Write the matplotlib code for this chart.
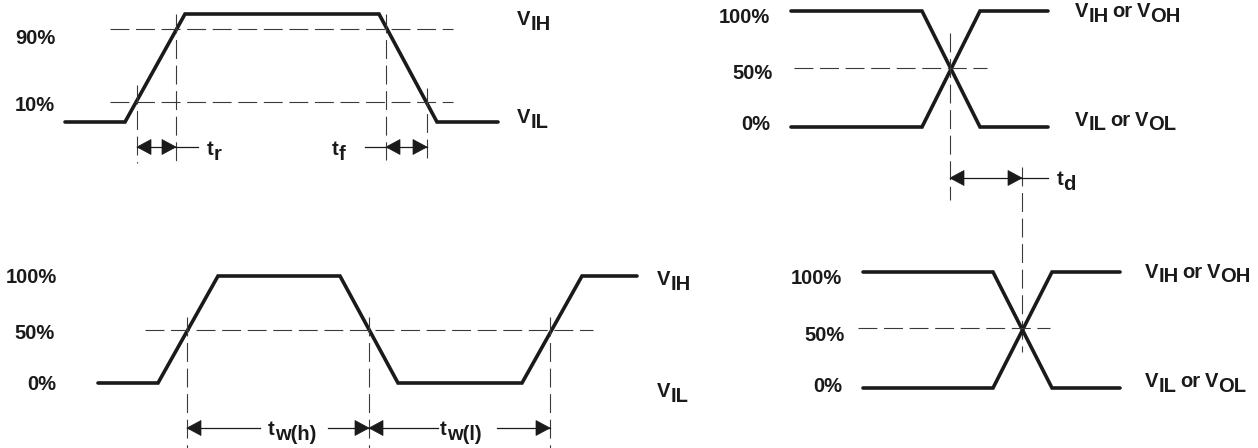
import matplotlib
matplotlib.use('Agg')
import matplotlib.pyplot as plt
from matplotlib.patches import Polygon

# Sheet is laid out in pixel units: x to the right, y downward.
W, H = 1258, 448

# ---- top left: rise / fall time ----
tl_wave_x = [65, 125, 185, 379, 437, 498]
tl_wave_y = [122, 122, 14, 14, 122, 122]
tl_ref_y = [29, 102]            # 90 %, 10 % reference lines
tl_ref_span = [110, 453]
tl_pct_labels = ['90%', '10%']
tl_pct_base = [44, 111]
tl_edges = [137, 176, 386, 427]  # crossing points of the reference lines
tl_edge_top = [85, 14, 14, 88]
tl_edge_bot = [163, 167, 160, 160]

# ---- top right: propagation delay, input ----
tr_x = [791, 922, 980, 1048]
tr_hi = [11, 11, 127, 127]
tr_lo = [127, 127, 11, 11]
tr_mid_y = 68
tr_mid_span = [794, 987]
tr_pct_labels = ['100%', '50%', '0%']
tr_pct_base = [23, 79, 130]
tr_pct_right = [770, 773, 770]

# ---- bottom left: pulse width ----
bl_wave_x = [98, 158, 218, 340, 398, 522, 582, 637]
bl_wave_y = [383, 383, 276, 276, 383, 383, 276, 276]
bl_mid_y = 330
bl_mid_span = [145, 593]
bl_pct_labels = ['100%', '50%', '0%']
bl_pct_base = [283, 339, 390]
bl_pct_right = [57, 55, 56]
bl_edges = [187, 369, 550]

# ---- bottom right: propagation delay, output ----
br_x = [863, 993, 1052, 1120]
br_hi = [272, 272, 388, 388]
br_lo = [388, 388, 272, 272]
br_mid_y = 328
br_mid_span = [858, 1050]
br_pct_labels = ['100%', '50%', '0%']
br_pct_base = [284, 341, 392]
br_pct_right = [842, 845, 842]

td_edges = [950, 1022]

INK = '#1a1a1a'
DASH = '#3a3a3a'
FS = 14.5
FONT = 'Liberation Sans'

fig = plt.figure(figsize=(W / 100, H / 100), dpi=100)
ax = fig.add_axes([0, 0, 1, 1])
ax.set_xlim(0, W)
ax.set_ylim(H, 0)
ax.axis('off')
renderer = fig.canvas.get_renderer()


def wave(x, y):
    ax.plot(x, y, color=INK, lw=2.6, solid_joinstyle='miter', solid_capstyle='round')


def dashed_h(y, x0, x1):
    ax.plot([x0, x1], [y, y], color=DASH, lw=0.8, ls=(0, (17, 6)))


def dashed_v(x, y0, y1):
    ax.plot([x, x], [y0, y1], color=DASH, lw=0.8, ls=(0, (17, 6)))


def head(tip, y, direction):
    # filled triangular arrow head, direction -1 points left, +1 right
    L, h = 14, 7.5
    base = tip - direction * L
    ax.add_patch(Polygon([[tip, y], [base, y - h], [base, y + h]], closed=True,
                         facecolor=INK, edgecolor=INK, lw=0.5))


def hline(y, x0, x1):
    ax.plot([x0, x1], [y, y], color=INK, lw=0.9)


def pct(labels, bases, right):
    for s, b, r in zip(labels, bases, right):
        ax.text(r, b, s, ha='right', va='baseline', fontsize=FS,
                fontweight='bold', family=FONT, color=INK)


def rich(x, y, parts):
    # parts: (text, downward shift) drawn one after another; None = small gap
    for p in parts:
        if p is None:
            x += 4
            continue
        s, dy = p
        t = ax.text(x, y + dy, s, ha='left', va='baseline', fontsize=FS,
                    fontweight='bold', family=FONT, color=INK)
        x += t.get_window_extent(renderer).width


SUB = 4.5

# top left
wave(tl_wave_x, tl_wave_y)
for y in tl_ref_y:
    dashed_h(y, *tl_ref_span)
for x, a, b in zip(tl_edges, tl_edge_top, tl_edge_bot):
    dashed_v(x, a, b)
pct(tl_pct_labels, tl_pct_base, [55, 55])
hline(147, tl_edges[0], 198)
head(tl_edges[0], 147, -1)
head(tl_edges[1], 147, 1)
hline(147, 365, tl_edges[3])
head(tl_edges[2], 147, -1)
head(tl_edges[3], 147, 1)
rich(207, 155, [('t', 0), ('r', SUB)])
rich(332, 155, [('t', 0), ('f', SUB)])
rich(517, 25, [('V', 0), ('IH', SUB)])
rich(517, 123, [('V', 0), ('IL', SUB)])

# top right
wave(tr_x, tr_hi)
wave(tr_x, tr_lo)
dashed_h(tr_mid_y, *tr_mid_span)
pct(tr_pct_labels, tr_pct_base, tr_pct_right)
dashed_v(td_edges[0], 33, 200)
dashed_v(td_edges[1], 167, 352)
hline(178, td_edges[0], 1048)
head(td_edges[0], 178, -1)
head(td_edges[1], 178, 1)
rich(1057, 185, [('t', 0), ('d', SUB)])
rich(1075, 17, [('V', 0), ('IH', SUB), None, ('or', 0), None, ('V', 0), ('OH', SUB)])
rich(1075, 126, [('V', 0), ('IL', SUB), None, ('or', 0), None, ('V', 0), ('OL', SUB)])

# bottom left
wave(bl_wave_x, bl_wave_y)
dashed_h(bl_mid_y, *bl_mid_span)
for x in bl_edges:
    dashed_v(x, 317, 448)
pct(bl_pct_labels, bl_pct_base, bl_pct_right)
hline(428, bl_edges[0], 260)
hline(428, 328, bl_edges[1])
hline(428, bl_edges[1], 438)
hline(428, 497, bl_edges[2])
head(bl_edges[0], 428, -1)
head(bl_edges[1], 428, 1)
head(bl_edges[1], 428, -1)
head(bl_edges[2], 428, 1)
rich(268, 435, [('t', 0), ('w(h)', SUB)])
rich(440, 435, [('t', 0), ('w(l)', SUB)])
rich(657, 285, [('V', 0), ('IH', SUB)])
rich(657, 397, [('V', 0), ('IL', SUB)])

# bottom right
wave(br_x, br_hi)
wave(br_x, br_lo)
dashed_h(br_mid_y, *br_mid_span)
pct(br_pct_labels, br_pct_base, br_pct_right)
rich(1145, 278, [('V', 0), ('IH', SUB), None, ('or', 0), None, ('V', 0), ('OH', SUB)])
rich(1145, 387, [('V', 0), ('IL', SUB), None, ('or', 0), None, ('V', 0), ('OL', SUB)])

fig.savefig('out.png', dpi=100, facecolor='white')
